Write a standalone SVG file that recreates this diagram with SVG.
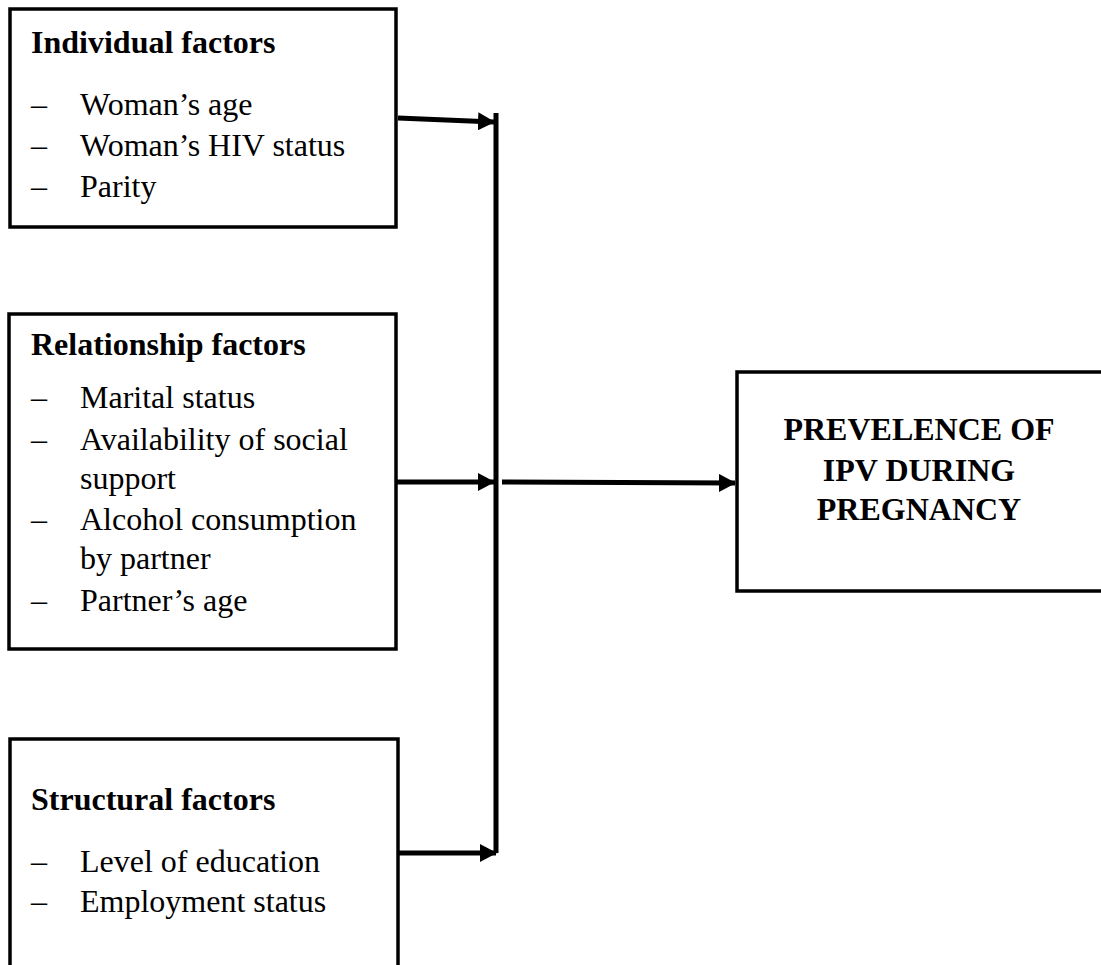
<svg xmlns="http://www.w3.org/2000/svg" width="1101" height="965" viewBox="0 0 1101 965">
<style>
.box{fill:#fff;stroke:#000;stroke-width:3.5}
.h{font-family:"Liberation Serif","Times New Roman",serif;font-weight:bold;font-size:32px;fill:#000}
.t{font-family:"Liberation Serif","Times New Roman",serif;font-size:32px;fill:#000}
.c{stroke:#000;stroke-width:5;fill:none}
</style>
<defs>
<marker id="ah" markerUnits="userSpaceOnUse" markerWidth="18" markerHeight="18" refX="16" refY="9" orient="auto">
<path d="M0,0 L17,9 L0,18 Z" fill="#000"/>
</marker>
</defs>
<rect width="1101" height="965" fill="#fff"/>
<g id="individual">
<rect class="box" x="10" y="9" width="386" height="218"/>
<text class="h" x="31" y="53">Individual factors</text>
<text class="t" x="31" y="115">–</text><text class="t" x="80" y="115">Woman’s age</text>
<text class="t" x="31" y="156">–</text><text class="t" x="80" y="156">Woman’s HIV status</text>
<text class="t" x="31" y="197">–</text><text class="t" x="80" y="197">Parity</text>
</g>
<g id="relationship">
<rect class="box" x="9" y="314" width="387" height="335"/>
<text class="h" x="31" y="355">Relationship factors</text>
<text class="t" x="31" y="408">–</text><text class="t" x="80" y="408">Marital status</text>
<text class="t" x="31" y="450">–</text><text class="t" x="80" y="450">Availability of social</text>
<text class="t" x="80" y="489">support</text>
<text class="t" x="31" y="530">–</text><text class="t" x="80" y="530">Alcohol consumption</text>
<text class="t" x="80" y="569">by partner</text>
<text class="t" x="31" y="611">–</text><text class="t" x="80" y="611">Partner’s age</text>
</g>
<g id="structural">
<rect class="box" x="10" y="739" width="388" height="240"/>
<text class="h" x="31" y="810">Structural factors</text>
<text class="t" x="31" y="872">–</text><text class="t" x="80" y="872">Level of education</text>
<text class="t" x="31" y="912">–</text><text class="t" x="80" y="912">Employment status</text>
</g>
<g id="prevalence">
<rect class="box" x="737" y="372" width="366" height="219"/>
<text class="h" x="919" y="440" text-anchor="middle">PREVELENCE OF</text>
<text class="h" x="919" y="481" text-anchor="middle">IPV DURING</text>
<text class="h" x="919" y="520" text-anchor="middle">PREGNANCY</text>
</g>
<g id="connectors">
<line class="c" x1="496" y1="113" x2="496" y2="853"/>
<line class="c" x1="398" y1="118" x2="494" y2="122" marker-end="url(#ah)"/>
<line class="c" x1="396" y1="482" x2="494" y2="482" marker-end="url(#ah)"/>
<line class="c" x1="398" y1="853" x2="496" y2="853" marker-end="url(#ah)"/>
<line class="c" x1="502" y1="482" x2="735" y2="483" marker-end="url(#ah)"/>
</g>
</svg>
